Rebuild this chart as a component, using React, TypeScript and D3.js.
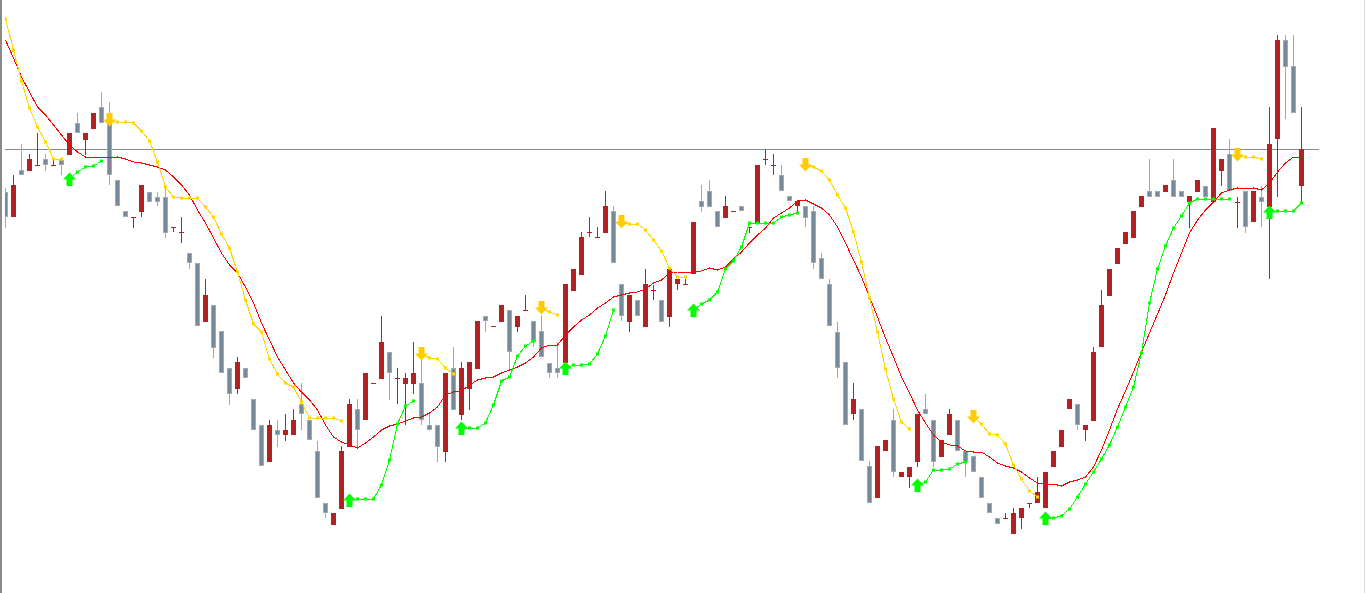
import React from "react";
import * as d3 from "d3";

const W = 1366;
const H = 593;

// OHLC per bar (price points)
const opens = [
  808, 783, 830, 829, 835, 841, 835, 840, 845, 877,
  860, 871, 893, 882, 820, 789, 783, 788, 808, 803,
  803, 773, 768, 747, 737, 678, 695, 669, 632, 611,
  632, 601, 575, 538, 570, 565, 565, 596, 580, 549,
  497, 475, 491, 553, 591, 580, 617, 621, 648, 622,
  616, 616, 617, 575, 575, 548, 632, 585, 611, 631,
  684, 674, 678, 690, 673, 690, 679, 669, 637, 632,
  637, 709, 725, 768, 763, 767, 789, 716, 678, 700,
  673, 710, 700, 683, 716, 716, 726, 799, 809, 789,
  782, 789, 794, 773, 777, 841, 835, 825, 804, 794,
  794, 789, 742, 716, 668, 638, 586, 591, 534, 502,
  549, 580, 523, 523, 538, 591, 580, 543, 565, 580,
  549, 544, 523, 497, 482, 482, 466, 482, 497, 497,
  492, 533, 553, 591, 596, 570, 579, 653, 704, 736,
  756, 762, 793, 809, 809, 808, 820, 809, 798, 808,
  814, 798, 829, 846, 798, 809, 778, 803, 793, 861,
  960, 934, 814,
];
const highs = [
  812, 825, 856, 846, 867, 846, 841, 841, 867, 887,
  867, 887, 908, 898, 820, 789, 783, 815, 808, 808,
  813, 773, 783, 747, 737, 721, 695, 669, 632, 643,
  632, 601, 575, 580, 580, 586, 591, 617, 580, 559,
  497, 487, 554, 601, 601, 627, 617, 684, 648, 632,
  627, 658, 648, 586, 575, 627, 653, 638, 638, 679,
  684, 674, 695, 690, 684, 705, 679, 685, 637, 658,
  716, 731, 768, 783, 773, 809, 794, 716, 705, 700,
  731, 715, 700, 731, 721, 721, 778, 815, 820, 789,
  804, 789, 794, 773, 835, 851, 846, 835, 804, 799,
  794, 794, 747, 721, 678, 638, 617, 591, 539, 554,
  560, 591, 528, 533, 586, 606, 580, 560, 591, 580,
  549, 544, 523, 497, 482, 487, 492, 492, 497, 523,
  528, 549, 570, 601, 596, 575, 653, 710, 731, 752,
  768, 789, 804, 841, 809, 815, 841, 809, 804, 820,
  814, 872, 841, 861, 803, 809, 809, 814, 893, 965,
  965, 965, 893,
];
const lows = [
  772, 783, 825, 829, 835, 829, 835, 825, 845, 867,
  845, 871, 877, 815, 794, 783, 772, 783, 798, 794,
  762, 768, 757, 731, 674, 678, 642, 627, 595, 606,
  622, 570, 534, 538, 553, 559, 565, 570, 560, 502,
  482, 475, 491, 553, 553, 580, 617, 621, 600, 596,
  575, 606, 575, 570, 538, 538, 590, 580, 590, 631,
  668, 674, 678, 630, 668, 690, 653, 643, 622, 622,
  637, 709, 725, 763, 763, 767, 737, 679, 668, 684,
  673, 700, 678, 673, 710, 716, 726, 788, 793, 773,
  782, 789, 789, 767, 777, 835, 825, 809, 799, 788,
  773, 731, 721, 674, 622, 575, 580, 539, 497, 502,
  549, 523, 523, 512, 533, 586, 533, 543, 565, 549,
  523, 528, 502, 487, 476, 482, 466, 471, 492, 497,
  492, 533, 553, 591, 570, 559, 579, 653, 704, 736,
  756, 762, 793, 803, 803, 808, 803, 803, 772, 808,
  803, 798, 814, 809, 772, 767, 778, 773, 721, 803,
  881, 887, 798,
];
const closes = [
  783, 815, 825, 841, 835, 835, 835, 835, 867, 867,
  867, 887, 877, 825, 794, 783, 783, 815, 798, 798,
  767, 773, 768, 737, 674, 705, 652, 627, 606, 638,
  622, 570, 534, 575, 565, 570, 580, 586, 560, 502,
  487, 487, 549, 596, 570, 627, 617, 658, 627, 622,
  622, 627, 580, 570, 553, 627, 590, 632, 638, 679,
  679, 674, 695, 648, 684, 690, 658, 643, 627, 627,
  716, 731, 763, 768, 763, 794, 737, 684, 705, 684,
  716, 710, 678, 731, 721, 716, 778, 793, 793, 773,
  794, 789, 789, 773, 835, 841, 835, 809, 799, 799,
  782, 737, 721, 674, 632, 575, 601, 539, 497, 554,
  560, 528, 528, 533, 586, 586, 538, 560, 586, 549,
  538, 528, 502, 487, 476, 482, 487, 492, 497, 508,
  528, 549, 570, 601, 575, 575, 648, 695, 731, 752,
  768, 789, 804, 803, 803, 815, 803, 803, 804, 820,
  803, 872, 841, 809, 798, 773, 809, 798, 856, 960,
  933, 887, 851,
];

// Moving average (red)
const maValues = [
  960, 942, 923, 908, 893, 885, 875, 865, 855, 848,
  843, 843, 843, 842, 843, 841, 838, 837, 835, 833,
  830, 823, 815, 805, 790, 777, 762, 747, 735, 727,
  713, 697, 677, 660, 643, 630, 617, 608, 600, 590,
  575, 563, 558, 555, 552, 557, 563, 570, 574, 576,
  579, 582, 583, 587, 593, 605, 608, 609, 615, 620,
  622, 623, 627, 630, 633, 637, 643, 652, 655, 655,
  665, 673, 680, 685, 692, 697, 703, 705, 707, 708,
  711, 717, 720, 727, 728, 728, 728, 729, 732, 730,
  733, 741, 748, 757, 765, 772, 782, 787, 792, 799,
  800, 796, 792, 785, 773, 757, 740, 723, 703, 683,
  662, 643, 623, 607, 590, 577, 565, 558, 555, 554,
  549, 548, 548, 543, 537, 534, 532, 528, 522, 517,
  516, 516, 514, 518, 520, 523, 533, 550, 570, 591,
  609, 628, 648, 667, 686, 705, 727, 747, 767, 780,
  790, 798, 807, 810, 812, 811, 812, 810, 817, 828,
  837, 843, 843,
];

// Trailing trend lines: start bar + values
const upStarts = [8, 43, 57, 70, 86, 114, 130, 158];
const upValues = [
  [821, 828, 833, 834, 839],
  [500, 501, 501, 501, 515, 540, 576, 594, 599],
  [572, 572, 572, 577, 595, 619, 623, 644, 654, 659],
  [632, 635, 635, 636, 646, 664, 690],
  [690, 696, 700, 708, 731, 739, 753, 777, 777, 777, 777, 783, 785, 787],
  [515, 518, 530, 530, 531, 536, 538],
  [482, 482, 484, 491, 503, 516, 528, 541, 555, 573, 593, 613, 647, 697, 731, 754, 772, 784, 797, 801, 801, 801, 801, 801],
  [788, 789, 789, 789, 797],
];
const downStarts = [0, 13, 52, 67, 77, 100, 121, 154];
const downValues = [
  [981, 950, 919, 892, 873, 858, 841, 841],
  [880, 878, 878, 877, 869, 859, 838, 813, 803, 802, 802, 802, 793, 783, 766, 752, 728, 700, 676, 668, 641, 626, 617, 613, 598, 582, 582, 582, 582, 579],
  [646, 642, 641, 632, 626],
  [692, 688, 685],
  [778, 776, 776, 770, 760, 749, 732, 723, 723],
  [835, 833, 829, 820, 805, 792, 768, 738, 702, 668, 631, 601, 578, 571],
  [583, 576, 566, 565, 556, 535, 521, 509, 503],
  [845, 843, 843, 841],
];
const currentPrice = 851;

const BULL = "#B22222";
const BEAR_FILL = "#778899";
const BEAR_EDGE = "#A3A8B0";
const MA_COLOR = "#FF0000";
const UP_COLOR = "#00FF00";
const DOWN_COLOR = "#FFD700";
const DOWN_ARROW = "#FFCC00";

export default function App() {
  const n = opens.length;
  const x = d3.scaleLinear().domain([0, n - 1]).range([5.5, 1301.5]);
  const y = d3.scaleLinear().domain([0, 1000]).range([1000, 0]);

  const line = d3
    .line<[number, number]>()
    .x((d) => x(d[0]))
    .y((d) => y(d[1]));

  const maPath = line(maValues.map((v, i) => [i, v] as [number, number])) || "";

  const segs = (starts: number[], vals: number[][]) =>
    starts.map((s, k) => vals[k].map((v, j) => [s + j, v] as [number, number]));
  const upSegs = segs(upStarts, upValues);
  const downSegs = segs(downStarts, downValues);

  const upArrow = (cx: number, cy: number) => {
    const t = cy - 6.5;
    return `M${cx},${t} L${cx + 6.5},${t + 7} L${cx + 3},${t + 7} L${cx + 3},${t + 13.5} L${cx - 3},${t + 13.5} L${cx - 3},${t + 7} L${cx - 6.5},${t + 7} Z`;
  };
  const downArrow = (cx: number, cy: number) => {
    const b = cy + 6.5;
    return `M${cx},${b} L${cx + 6.5},${b - 7} L${cx + 3},${b - 7} L${cx + 3},${b - 13.5} L${cx - 3},${b - 13.5} L${cx - 3},${b - 7} L${cx - 6.5},${b - 7} Z`;
  };

  return (
    <svg
      width={W}
      height={H}
      style={{ position: "absolute", left: 0, top: 0, background: "#fff" }}
    >
      <defs>
        <clipPath id="plot">
          <rect x={5} y={0} width={1315} height={H} />
        </clipPath>
      </defs>
      <rect x={0} y={0} width={W} height={H} fill="#fff" />
      <rect x={0} y={0} width={2} height={H} fill="#8a8a8a" />
      <line x1={1364.5} x2={1364.5} y1={0} y2={H} stroke="#dcdcdc" strokeWidth={1} />
      <g clipPath="url(#plot)">
        <line
          x1={5}
          x2={1319}
          y1={y(currentPrice) + 0.5}
          y2={y(currentPrice) + 0.5}
          stroke="#828a94"
          strokeWidth={1}
        />
        {opens.map((o, i) => {
          const c = closes[i];
          const cx = x(i);
          const bull = c >= o;
          const top = y(Math.max(o, c));
          const bot = y(Math.min(o, c));
          const hy = y(highs[i]);
          const ly = y(lows[i]);
          if (bull) {
            return (
              <g key={i}>
                {ly > hy && (
                  <line x1={cx} x2={cx} y1={hy} y2={ly} stroke={BULL} strokeWidth={1} />
                )}
                <rect x={cx - 2.5} y={top} width={5} height={Math.max(1, bot - top)} fill={BULL} />
              </g>
            );
          }
          return (
            <g key={i}>
              {ly > hy && (
                <line x1={cx} x2={cx} y1={hy} y2={ly} stroke={BEAR_EDGE} strokeWidth={1} />
              )}
              <rect
                x={cx - 2}
                y={top + 0.5}
                width={4}
                height={Math.max(0, bot - top - 1)}
                fill={BEAR_FILL}
                stroke={BEAR_EDGE}
                strokeWidth={1}
              />
            </g>
          );
        })}
        <path d={maPath} fill="none" stroke={MA_COLOR} strokeWidth={1} shapeRendering="crispEdges" />
        {downSegs.map((seg, k) => (
          <g key={"d" + k}>
            <path d={line(seg) || ""} fill="none" stroke={DOWN_COLOR} strokeWidth={1} shapeRendering="crispEdges" />
            {seg.map((p, j) =>
              j === 0 && downStarts[k] > 0 ? null : (
                <rect key={j} x={x(p[0]) - 1.5} y={y(p[1]) - 1.5} width={3} height={3} fill={DOWN_COLOR} />
              )
            )}
            {downStarts[k] > 0 && (
              <path d={downArrow(x(seg[0][0]), y(seg[0][1]))} fill={DOWN_ARROW} />
            )}
          </g>
        ))}
        {upSegs.map((seg, k) => (
          <g key={"u" + k}>
            <path d={line(seg) || ""} fill="none" stroke={UP_COLOR} strokeWidth={1} shapeRendering="crispEdges" />
            {seg.map((p, j) =>
              j === 0 ? null : (
                <rect key={j} x={x(p[0]) - 1.5} y={y(p[1]) - 1.5} width={3} height={3} fill={UP_COLOR} />
              )
            )}
            <path d={upArrow(x(seg[0][0]), y(seg[0][1]))} fill={UP_COLOR} />
          </g>
        ))}
      </g>
    </svg>
  );
}
